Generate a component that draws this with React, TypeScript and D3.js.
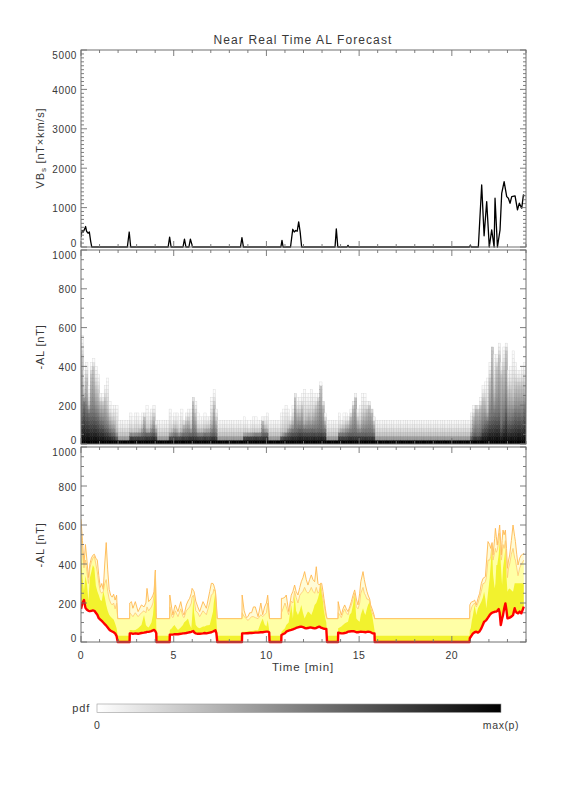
import React, { useMemo } from "react";
import * as d3 from "d3";

// ---------------- data ----------------
// Top panel: VBs [nT x km/s] vs time [min]
const vbsTime = [0, 0.05, 0.12, 0.2, 0.25, 0.3, 0.38, 0.45, 0.52, 0.58, 2.5, 2.6, 2.68, 4.7, 4.78, 4.86, 5.5, 5.58, 5.66, 5.82, 5.9, 5.96, 6.02, 8.6, 8.68, 8.76, 10.78, 10.84, 10.9, 11.3, 11.42, 11.5, 11.58, 11.66, 11.74, 11.82, 11.9, 13.7, 13.77, 13.85, 14.35, 14.4, 14.45, 20.95, 21.0, 21.05, 21.43, 21.61, 21.74, 21.88, 22.02, 22.15, 22.28, 22.33, 22.46, 22.6, 22.69, 22.82, 22.96, 23.05, 23.14, 23.23, 23.41, 23.54, 23.64, 23.77, 23.86, 23.92];
const vbsValue = [250, 420, 380, 460, 520, 400, 350, 380, 150, 0, 0, 380, 0, 0, 250, 0, 0, 200, 0, 0, 200, 100, 0, 0, 240, 0, 0, 170, 0, 0, 450, 380, 420, 400, 640, 380, 0, 0, 460, 0, 0, 40, 0, 0, 40, 0, 0, 1573, 285, 1152, 0, 437, 0, 1237, 0, 437, 1364, 1657, 1279, 1237, 1111, 1279, 1296, 942, 1111, 985, 1321, 1300];

// Bottom panel: -AL forecast distribution [nT]
const alTime = [
  0, 0.08, 0.16, 0.24, 0.32, 0.4, 0.48, 0.56, 0.64, 0.72, 0.8, 0.88, 0.96, 1.04, 1.12, 1.2, 1.28, 1.36, 1.44, 1.52, 1.6, 1.68, 1.76, 1.84, 1.92, 1.98,
  2.62,
  2.63, 2.72, 2.8, 2.93, 3.08, 3.26, 3.4, 3.5, 3.56, 3.65, 3.8, 3.88, 3.94, 4.01, 4.06, 4.07,
  4.78,
  4.79, 4.9, 4.96, 5.05, 5.09, 5.23, 5.38, 5.5, 5.56, 5.68, 5.77, 5.86, 5.95, 5.99, 6.06, 6.1, 6.19, 6.3, 6.4, 6.58, 6.67, 6.76, 6.94, 7.03, 7.12, 7.16, 7.25, 7.3, 7.35,
  8.68,
  8.69, 8.8, 8.92, 9.0, 9.1, 9.2, 9.3, 9.4, 9.55, 9.7, 9.8, 9.9, 10.0, 10.07, 10.15, 10.17,
  10.8,
  10.81, 10.89, 11.0, 11.07, 11.2, 11.34, 11.43, 11.52, 11.6, 11.7, 11.8, 11.88, 11.97, 12.06, 12.15, 12.24, 12.33, 12.42, 12.51, 12.6, 12.69, 12.78, 12.85, 12.92, 12.98, 13.05, 13.1, 13.18, 13.23, 13.27,
  13.86,
  13.87, 13.95, 14.04, 14.13, 14.22, 14.31, 14.4, 14.49, 14.58, 14.67, 14.76, 14.85, 14.94, 15.03, 15.09, 15.21, 15.28, 15.34, 15.42, 15.48, 15.57, 15.62, 15.7, 15.75, 15.83, 15.84,
  20.96,
  20.97, 21.02, 21.08, 21.14, 21.23, 21.32, 21.41, 21.5, 21.59, 21.68, 21.74, 21.81, 21.86, 21.95, 22.04, 22.1, 22.17, 22.22, 22.31, 22.35, 22.4, 22.45, 22.53, 22.58, 22.64, 22.67, 22.71, 22.76, 22.82, 22.89, 22.95, 23.0, 23.06, 23.12, 23.21, 23.3, 23.39, 23.43, 23.5, 23.57, 23.66, 23.75, 23.82, 23.88,
];
const alLow = [
  170, 200, 215, 175, 165, 160, 158, 160, 162, 160, 150, 140, 122, 115, 108, 100, 92, 84, 74, 64, 58, 54, 50, 44, 30, 0,
  0,
  44, 44, 42, 44, 42, 46, 48, 50, 52, 52, 56, 60, 62, 55, 45, 0,
  0,
  38, 38, 38, 40, 40, 40, 42, 44, 44, 46, 48, 50, 52, 54, 56, 50, 44, 42, 42, 44, 46, 44, 48, 50, 54, 56, 60, 45, 0,
  0,
  44, 44, 45, 45, 46, 46, 47, 48, 48, 50, 50, 52, 53, 53, 50, 0,
  0,
  36, 40, 45, 53, 58, 62, 65, 68, 72, 75, 78, 79, 76, 72, 70, 72, 74, 74, 72, 70, 72, 76, 79, 75, 72, 70, 68, 67, 67, 0,
  0,
  48, 46, 44, 44, 46, 48, 53, 54, 55, 56, 54, 50, 50, 52, 53, 52, 51, 50, 52, 53, 52, 50, 46, 44, 44, 0,
  0,
  20, 27, 35, 44, 50, 53, 48, 55, 70, 90, 104, 108, 113, 125, 138, 145, 150, 152, 155, 156, 156, 160, 169, 150, 87, 100, 120, 138, 170, 198, 160, 121, 123, 125, 130, 138, 173, 160, 150, 147, 156, 147, 165, 181,
];
const alMid = [
  440, 330, 260, 340, 300, 210, 330, 360, 395, 380, 290, 260, 240, 215, 210, 260, 230, 190, 160, 140, 130, 122, 115, 95, 70, 32,
  32,
  62, 62, 60, 62, 70, 87, 138, 87, 80, 75, 100, 138, 200, 361, 87, 32,
  32,
  62, 70, 80, 87, 80, 62, 75, 87, 100, 110, 121, 90, 70, 120, 224, 150, 87, 75, 70, 79, 79, 85, 87, 120, 156, 200, 258, 120, 32,
  32,
  53, 53, 53, 55, 55, 56, 58, 60, 60, 100, 121, 90, 80, 113, 60, 32,
  32,
  53, 60, 70, 87, 100, 190, 121, 241, 160, 138, 160, 190, 150, 121, 140, 156, 150, 138, 160, 190, 200, 224, 250, 301, 250, 207, 160, 121, 100, 32,
  32,
  70, 75, 80, 87, 95, 100, 104, 140, 150, 190, 241, 121, 110, 104, 140, 173, 150, 138, 170, 190, 207, 170, 138, 110, 60, 32,
  32,
  60, 70, 110, 138, 190, 138, 173, 190, 207, 230, 258, 220, 173, 250, 326, 400, 497, 350, 275, 300, 395, 395, 450, 515, 400, 350, 292, 380, 420, 480, 330, 258, 270, 275, 265, 258, 301, 301, 301, 301, 301, 301, 301, 301,
];
const alQ75 = [
  560, 450, 380, 420, 360, 300, 380, 410, 430, 440, 400, 360, 300, 260, 250, 260, 300, 320, 260, 220, 200, 190, 200, 170, 200, 120,
  120,
  150, 140, 130, 150, 130, 150, 160, 150, 180, 160, 180, 200, 240, 361, 120, 120,
  120,
  180, 130, 125, 150, 160, 130, 170, 130, 125, 160, 170, 180, 200, 230, 240, 220, 160, 150, 130, 160, 150, 140, 200, 240, 250, 270, 258, 180, 120,
  120,
  150, 130, 120, 110, 120, 130, 130, 125, 120, 140, 130, 140, 150, 200, 130, 120,
  120,
  150, 170, 200, 180, 140, 210, 200, 260, 230, 200, 240, 250, 260, 280, 260, 250, 260, 280, 260, 250, 280, 250, 260, 301, 260, 220, 200, 150, 130, 120,
  120,
  150, 140, 125, 150, 170, 150, 140, 170, 190, 220, 250, 180, 170, 200, 250, 280, 250, 240, 220, 220, 210, 180, 150, 140, 125, 120,
  120,
  150, 160, 180, 190, 200, 180, 200, 230, 260, 300, 300, 310, 330, 420, 420, 440, 500, 420, 460, 480, 460, 470, 520, 560, 440, 420, 450, 500, 480, 520, 420, 330, 380, 400, 450, 480, 430, 420, 380, 340, 380, 400, 410, 420,
];
const alQ95 = [
  630, 520, 400, 500, 420, 330, 400, 430, 445, 450, 430, 420, 340, 280, 300, 270, 400, 510, 370, 270, 240, 230, 245, 215, 240, 120,
  120,
  200, 207, 173, 207, 156, 190, 180, 200, 275, 207, 224, 240, 258, 369, 150, 120,
  120,
  241, 170, 138, 180, 190, 156, 207, 150, 138, 190, 210, 224, 250, 275, 265, 258, 210, 180, 156, 207, 190, 173, 258, 301, 300, 292, 260, 200, 120,
  120,
  241, 160, 125, 130, 150, 150, 180, 180, 130, 200, 140, 180, 200, 240, 150, 120,
  120,
  224, 224, 230, 241, 156, 240, 260, 292, 260, 241, 280, 309, 330, 361, 320, 292, 320, 344, 320, 309, 386, 300, 292, 301, 301, 260, 224, 170, 138, 120,
  120,
  207, 170, 138, 170, 190, 170, 156, 180, 207, 240, 267, 220, 190, 250, 309, 361, 320, 292, 260, 241, 220, 190, 170, 156, 130, 120,
  120,
  190, 200, 207, 207, 215, 190, 224, 250, 300, 326, 330, 335, 400, 515, 500, 480, 510, 446, 530, 583, 540, 497, 560, 600, 500, 446, 520, 574, 550, 574, 480, 378, 420, 446, 520, 600, 540, 515, 450, 395, 430, 446, 450, 455,
];

const xTickLabels = [0, 5, 10, 15, 20];
const vbsTickLabels = [0, 1000, 2000, 3000, 4000, 5000];
const alTickLabels = [0, 200, 400, 600, 800, 1000];
const colorbarLabels = ["0", "max(p)"];

// ---------------- style ----------------
const FONT = "'Liberation Sans', Arial, sans-serif";
const TXT = "#383838";
const AX = "#707070";
const X0 = 81;
const X1 = 526;
const P1 = { top: 50, bottom: 247 };
const P2 = { top: 250, bottom: 444 };
const P3 = { top: 447, bottom: 642 };

type FrameProps = {
  x: d3.ScaleLinear<number, number>;
  y: d3.ScaleLinear<number, number>;
  top: number;
  bottom: number;
  minorStep: number;
  majorStep: number;
  labels: number[];
};

function Frame({ x, y, top, bottom, minorStep, majorStep, labels }: FrameProps) {
  const ymax = y.domain()[1];
  const xt = d3.range(0, 24.001, 1);
  const yt = d3.range(0, ymax + 0.001, minorStep);
  return (
    <g>
      <rect x={X0} y={top} width={X1 - X0} height={bottom - top} fill="none" stroke={AX} strokeWidth={1} />
      {xt.map((t) => {
        const len = t % 5 === 0 ? 6 : 3;
        const px = x(t);
        return (
          <g key={"xt" + t}>
            <line x1={px} x2={px} y1={bottom} y2={bottom - len} stroke={AX} strokeWidth={0.9} />
            <line x1={px} x2={px} y1={top} y2={top + len} stroke={AX} strokeWidth={0.9} />
          </g>
        );
      })}
      {yt.map((v) => {
        const major = Math.abs(v / majorStep - Math.round(v / majorStep)) < 1e-6;
        const len = major ? 6 : 3;
        const py = y(v);
        return (
          <g key={"yt" + v}>
            <line x1={X0} x2={X0 + len} y1={py} y2={py} stroke={AX} strokeWidth={0.9} />
            <line x1={X1} x2={X1 - len} y1={py} y2={py} stroke={AX} strokeWidth={0.9} />
          </g>
        );
      })}
      {labels.map((v, i) => {
        let py = y(v) + 1;
        if (i === 0) py -= 4.5;
        if (i === labels.length - 1) py += 4.5;
        return (
          <text key={"yl" + v} x={77} y={py} dy="0.35em" textAnchor="end" fontSize={10} letterSpacing={0.6} fill={TXT} fontFamily={FONT}>
            {v}
          </text>
        );
      })}
    </g>
  );
}

function densityAt(v: number, pts: number[][]) {
  if (v < pts[0][0] || v > pts[pts.length - 1][0]) return 0;
  for (let i = 0; i < pts.length - 1; i++) {
    const [a, da] = pts[i];
    const [b, db] = pts[i + 1];
    if (v >= a && v <= b) {
      if (b - a < 1e-9) return Math.max(da, db);
      return da + ((v - a) / (b - a)) * (db - da);
    }
  }
  return 0;
}

export default function App() {
  const x = d3.scaleLinear().domain([0, 24]).range([X0, X1]);
  const y1 = d3.scaleLinear().domain([0, 5000]).range([P1.bottom, P1.top]);
  const y2 = d3.scaleLinear().domain([0, 1000]).range([P2.bottom, P2.top]);
  const y3 = d3.scaleLinear().domain([0, 1000]).range([P3.bottom, P3.top]);

  const idx = alTime.map((_, i) => i);

  const vbsLine = d3
    .line<number>()
    .x((i) => x(vbsTime[i]))
    .y((i) => y1(vbsValue[i]))(vbsTime.map((_, i) => i)) || "";

  const areaBetween = (upper: number[]) =>
    d3
      .area<number>()
      .x((i) => x(alTime[i]))
      .y0((i) => y3(alLow[i]))
      .y1((i) => y3(upper[i]))(idx) || "";
  const lineOf = (arr: number[]) =>
    d3
      .line<number>()
      .x((i) => x(alTime[i]))
      .y((i) => y3(arr[i]))(idx) || "";

  const cells = useMemo(() => {
    const out: { t0: number; t1: number; v0: number; v1: number; dark: number }[] = [];
    const step = 0.125;
    const bin = 20;
    for (let c = 0; c < 192; c++) {
      const tc = c * step;
      const tm = tc + step / 2;
      let i = d3.bisectRight(alTime, tm) - 1;
      if (i < 0) i = 0;
      const low = alLow[i];
      const mid = Math.max(alMid[i], low + 1);
      const q75 = Math.max(alQ75[i], mid + 1);
      const q95 = Math.max(alQ95[i], q75 + 15);
      const pts: number[][] = [[0, 1]];
      if (low > 0) pts.push([low, 0.7]);
      pts.push([mid, 0.42]);
      pts.push([q75, 0.08]);
      pts.push([q95, 0.015]);
      pts.push([q95 + 20, 0]);
      const vals: number[] = [];
      for (let b = 0; b < 50; b++) {
        let s = 0;
        for (let k = 0; k < 8; k++) s += densityAt((b + (k + 0.5) / 8) * bin, pts);
        vals.push(s / 8);
      }
      const mx = d3.max(vals) || 1;
      vals.forEach((p, b) => {
        const dark = Math.pow(p / mx, 1.8);
        if (dark > 0.01) out.push({ t0: tc, t1: tc + step, v0: b * bin, v1: (b + 1) * bin, dark });
      });
    }
    return out;
  }, []);

  return (
    <svg width={576} height={792} style={{ position: "absolute", left: 0, top: 0, background: "#fff" }} fontFamily={FONT}>
      <defs>
        <clipPath id="c1">
          <rect x={X0} y={P1.top} width={X1 - X0} height={P1.bottom - P1.top + 2} />
        </clipPath>
        <clipPath id="c2">
          <rect x={X0} y={P2.top} width={X1 - X0} height={P2.bottom - P2.top} />
        </clipPath>
        <clipPath id="c3">
          <rect x={X0} y={P3.top} width={X1 - X0} height={P3.bottom - P3.top + 2} />
        </clipPath>
        <linearGradient id="cbar" x1="0" x2="1" y1="0" y2="0">
          <stop offset="0" stopColor="#ffffff" />
          <stop offset="1" stopColor="#000000" />
        </linearGradient>
      </defs>
      <rect x={0} y={0} width={576} height={792} fill="#fff" />

      <text x={303} y={44} textAnchor="middle" fontSize={12} letterSpacing={1.1} fill={TXT}>
        Near Real Time AL Forecast
      </text>

      {/* Panel 1: VBs */}
      <g clipPath="url(#c1)">
        <path d={vbsLine} fill="none" stroke="#000" strokeWidth={1.3} strokeLinejoin="round" />
      </g>
      <Frame x={x} y={y1} top={P1.top} bottom={P1.bottom} minorStep={100} majorStep={1000} labels={vbsTickLabels} />
      <text transform={`translate(44,148) rotate(-90)`} textAnchor="middle" fontSize={11} letterSpacing={0.8} fill={TXT}>
        VB<tspan fontSize={8} dy={2}>s</tspan>
        <tspan dy={-2}> [nT×km/s]</tspan>
      </text>

      {/* Panel 2: pdf heatmap */}
      <g clipPath="url(#c2)">
        {cells.map((c, k) => {
          const g = Math.round(255 * (1 - c.dark));
          const sg = Math.round(g * 0.86);
          return (
            <rect
              key={k}
              x={x(c.t0)}
              y={y2(c.v1)}
              width={x(c.t1) - x(c.t0)}
              height={y2(c.v0) - y2(c.v1)}
              fill={`rgb(${g},${g},${g})`}
              stroke={`rgb(${sg},${sg},${sg})`}
              strokeWidth={0.4}
            />
          );
        })}
      </g>
      <Frame x={x} y={y2} top={P2.top} bottom={P2.bottom} minorStep={50} majorStep={200} labels={alTickLabels} />
      <text transform={`translate(44,347) rotate(-90)`} textAnchor="middle" fontSize={11} letterSpacing={0.8} fill={TXT}>
        -AL [nT]
      </text>

      {/* Panel 3: forecast bands */}
      <g clipPath="url(#c3)">
        <path d={areaBetween(alQ95)} fill="#FFFBD6" stroke="none" />
        <path d={areaBetween(alQ75)} fill="#FFFFA6" stroke="none" />
        <path d={areaBetween(alMid)} fill="#F2F22E" stroke="none" />
        <path d={lineOf(alQ95)} fill="none" stroke="#FFB850" strokeWidth={0.9} />
        <path d={lineOf(alQ75)} fill="none" stroke="#FFC870" strokeWidth={0.8} />
        <path d={lineOf(alLow)} fill="none" stroke="#FF0000" strokeWidth={2.4} strokeLinejoin="round" />
      </g>
      <Frame x={x} y={y3} top={P3.top} bottom={P3.bottom} minorStep={50} majorStep={200} labels={alTickLabels} />
      <text transform={`translate(44,545) rotate(-90)`} textAnchor="middle" fontSize={11} letterSpacing={0.8} fill={TXT}>
        -AL [nT]
      </text>

      {xTickLabels.map((t) => (
        <text key={"xl" + t} x={x(t)} y={659} textAnchor="middle" fontSize={10.5} letterSpacing={0.5} fill={TXT}>
          {t}
        </text>
      ))}
      <text x={303} y={671} textAnchor="middle" fontSize={11.5} letterSpacing={0.9} fill={TXT}>
        Time [min]
      </text>

      {/* Colorbar */}
      <rect x={97} y={704} width={404} height={8.5} fill="url(#cbar)" stroke="#9a9a9a" strokeWidth={0.6} />
      <text x={90} y={712} textAnchor="end" fontSize={11} letterSpacing={0.8} fill={TXT}>
        pdf
      </text>
      <text x={97} y={729} textAnchor="middle" fontSize={10.5} fill={TXT}>
        {colorbarLabels[0]}
      </text>
      <text x={501} y={729} textAnchor="middle" fontSize={10.5} letterSpacing={0.6} fill={TXT}>
        {colorbarLabels[1]}
      </text>
    </svg>
  );
}
